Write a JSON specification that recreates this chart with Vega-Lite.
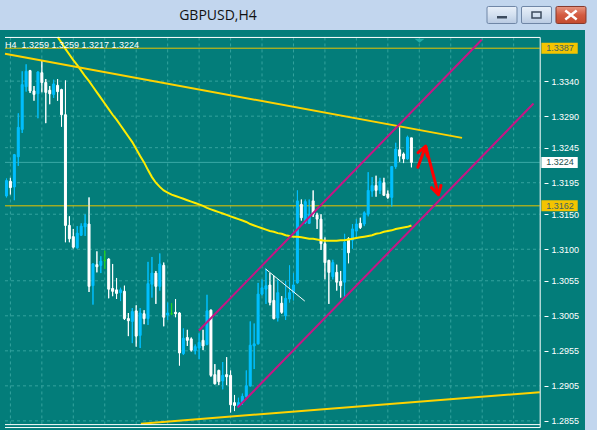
{
  "$schema": "https://vega.github.io/schema/vega-lite/v6.json",
  "background": "#c2d6ee",
  "padding": {"left": 0, "top": 4, "right": 12, "bottom": 0},
  "autosize": {"type": "pad"},
  "spacing": 4,
  "config": {"view": {"stroke": null}, "font": "Liberation Sans"},
  "datasets": {
    "candles": [
      {"i":0,"o":1.3176,"h":1.3201,"l":1.3174,"c":1.3198},
      {"i":1,"o":1.3197,"h":1.3202,"l":1.3178,"c":1.3188},
      {"i":2,"o":1.3189,"h":1.3236,"l":1.3170,"c":1.3235},
      {"i":3,"o":1.3232,"h":1.3294,"l":1.3219,"c":1.3274},
      {"i":4,"o":1.3271,"h":1.3354,"l":1.3266,"c":1.3335},
      {"i":5,"o":1.3332,"h":1.3364,"l":1.3325,"c":1.3354},
      {"i":6,"o":1.3355,"h":1.3356,"l":1.3323,"c":1.3326},
      {"i":7,"o":1.3326,"h":1.3333,"l":1.3312,"c":1.3321},
      {"i":8,"o":1.3322,"h":1.3354,"l":1.3287,"c":1.3353},
      {"i":9,"o":1.3352,"h":1.3369,"l":1.3324,"c":1.3338},
      {"i":10,"o":1.3338,"h":1.3343,"l":1.3280,"c":1.3324},
      {"i":11,"o":1.3327,"h":1.3333,"l":1.3307,"c":1.3322},
      {"i":12,"o":1.3321,"h":1.3342,"l":1.3316,"c":1.3336},
      {"i":13,"o":1.3334,"h":1.3343,"l":1.3312,"c":1.3325,"ma":1.3403},
      {"i":14,"o":1.3328,"h":1.3329,"l":1.3275,"c":1.3292,"ma":1.3395},
      {"i":15,"o":1.3292,"h":1.3341,"l":1.3110,"c":1.3134,"ma":1.3386},
      {"i":16,"o":1.3134,"h":1.3147,"l":1.3110,"c":1.3115,"ma":1.3378},
      {"i":17,"o":1.3118,"h":1.3129,"l":1.3101,"c":1.3103,"ma":1.3370},
      {"i":18,"o":1.3102,"h":1.3133,"l":1.3101,"c":1.3123,"ma":1.3363},
      {"i":19,"o":1.3120,"h":1.3137,"l":1.3119,"c":1.3133,"ma":1.3355},
      {"i":20,"o":1.3132,"h":1.3150,"l":1.3119,"c":1.3137,"ma":1.3347},
      {"i":21,"o":1.3136,"h":1.3174,"l":1.3039,"c":1.3047,"ma":1.3340},
      {"i":22,"o":1.3048,"h":1.3080,"l":1.3021,"c":1.3079,"ma":1.3332},
      {"i":23,"o":1.3078,"h":1.3097,"l":1.3067,"c":1.3075,"ma":1.3324},
      {"i":24,"o":1.3077,"h":1.3090,"l":1.3066,"c":1.3083,"ma":1.3316},
      {"i":25,"o":1.3084,"h":1.3098,"l":1.3072,"c":1.3084,"ma":1.3308},
      {"i":26,"o":1.3086,"h":1.3087,"l":1.3030,"c":1.3043,"ma":1.3300},
      {"i":27,"o":1.3044,"h":1.3079,"l":1.3033,"c":1.3040,"ma":1.3292},
      {"i":28,"o":1.3042,"h":1.3059,"l":1.3029,"c":1.3037,"ma":1.3285},
      {"i":29,"o":1.3038,"h":1.3045,"l":1.3026,"c":1.3042,"ma":1.3277},
      {"i":30,"o":1.3040,"h":1.3048,"l":1.2999,"c":1.3001,"ma":1.3269},
      {"i":31,"o":1.3001,"h":1.3009,"l":1.2976,"c":1.2998,"ma":1.3261},
      {"i":32,"o":1.2997,"h":1.3016,"l":1.2966,"c":1.3011,"ma":1.3253},
      {"i":33,"o":1.3012,"h":1.3020,"l":1.2961,"c":1.2976,"ma":1.3243},
      {"i":34,"o":1.2977,"h":1.3016,"l":1.2959,"c":1.3009,"ma":1.3233},
      {"i":35,"o":1.3008,"h":1.3013,"l":1.2993,"c":1.3001,"ma":1.3224},
      {"i":36,"o":1.3001,"h":1.3082,"l":1.2992,"c":1.3051,"ma":1.3213},
      {"i":37,"o":1.3050,"h":1.3089,"l":1.3031,"c":1.3066,"ma":1.3203},
      {"i":38,"o":1.3066,"h":1.3069,"l":1.3022,"c":1.3047,"ma":1.3195},
      {"i":39,"o":1.3047,"h":1.3094,"l":1.3041,"c":1.3079,"ma":1.3189},
      {"i":40,"o":1.3077,"h":1.3081,"l":1.2990,"c":1.3003,"ma":1.3184},
      {"i":41,"o":1.3006,"h":1.3024,"l":1.2999,"c":1.3009,"ma":1.3181},
      {"i":42,"o":1.3008,"h":1.3023,"l":1.3006,"c":1.3008,"ma":1.3178},
      {"i":43,"o":1.3010,"h":1.3029,"l":1.3003,"c":1.3008,"ma":1.3176},
      {"i":44,"o":1.3009,"h":1.3010,"l":1.2934,"c":1.2952,"ma":1.3174},
      {"i":45,"o":1.2951,"h":1.2987,"l":1.2949,"c":1.2973,"ma":1.3172},
      {"i":46,"o":1.2974,"h":1.2985,"l":1.2962,"c":1.2970,"ma":1.3170},
      {"i":47,"o":1.2972,"h":1.2974,"l":1.2954,"c":1.2956,"ma":1.3168},
      {"i":48,"o":1.2955,"h":1.2964,"l":1.2950,"c":1.2961,"ma":1.3166},
      {"i":49,"o":1.2959,"h":1.2980,"l":1.2943,"c":1.2967,"ma":1.3164},
      {"i":50,"o":1.2970,"h":1.2985,"l":1.2956,"c":1.2962,"ma":1.3162},
      {"i":51,"o":1.2964,"h":1.3035,"l":1.2963,"c":1.3012,"ma":1.3159},
      {"i":52,"o":1.3013,"h":1.3014,"l":1.2918,"c":1.2920,"ma":1.3157},
      {"i":53,"o":1.2921,"h":1.2936,"l":1.2907,"c":1.2908,"ma":1.3155},
      {"i":54,"o":1.2927,"h":1.2928,"l":1.2906,"c":1.2911,"ma":1.3153},
      {"i":55,"o":1.2912,"h":1.2939,"l":1.2900,"c":1.2920,"ma":1.3151},
      {"i":56,"o":1.2921,"h":1.2946,"l":1.2906,"c":1.2918,"ma":1.3149},
      {"i":57,"o":1.2920,"h":1.2927,"l":1.2867,"c":1.2878,"ma":1.3147},
      {"i":58,"o":1.2881,"h":1.2892,"l":1.2869,"c":1.2877,"ma":1.3145},
      {"i":59,"o":1.2876,"h":1.2888,"l":1.2875,"c":1.2881,"ma":1.3143},
      {"i":60,"o":1.2881,"h":1.2894,"l":1.2878,"c":1.2890,"ma":1.3141},
      {"i":61,"o":1.2890,"h":1.2927,"l":1.2888,"c":1.2905,"ma":1.3139},
      {"i":62,"o":1.2905,"h":1.2997,"l":1.2904,"c":1.2963,"ma":1.3136},
      {"i":63,"o":1.2962,"h":1.2994,"l":1.2929,"c":1.2965,"ma":1.3134},
      {"i":64,"o":1.2965,"h":1.3052,"l":1.2964,"c":1.3036,"ma":1.3132},
      {"i":65,"o":1.3036,"h":1.3057,"l":1.3034,"c":1.3045,"ma":1.3130},
      {"i":66,"o":1.3043,"h":1.3072,"l":1.3022,"c":1.3048,"ma":1.3128},
      {"i":67,"o":1.3049,"h":1.3066,"l":1.3020,"c":1.3024,"ma":1.3126},
      {"i":68,"o":1.3027,"h":1.3062,"l":1.3000,"c":1.3001,"ma":1.3125},
      {"i":69,"o":1.3002,"h":1.3057,"l":1.2997,"c":1.3038,"ma":1.3123},
      {"i":70,"o":1.3023,"h":1.3033,"l":1.3008,"c":1.3010,"ma":1.3122},
      {"i":71,"o":1.3005,"h":1.3055,"l":1.2999,"c":1.3030,"ma":1.3120},
      {"i":72,"o":1.3029,"h":1.3077,"l":1.3024,"c":1.3038,"ma":1.3119},
      {"i":73,"o":1.3038,"h":1.3066,"l":1.3027,"c":1.3049,"ma":1.3118},
      {"i":74,"o":1.3052,"h":1.3184,"l":1.3051,"c":1.3169,"ma":1.3118},
      {"i":75,"o":1.3164,"h":1.3171,"l":1.3141,"c":1.3145,"ma":1.3117},
      {"i":76,"o":1.3138,"h":1.3171,"l":1.3136,"c":1.3168,"ma":1.3116},
      {"i":77,"o":1.3137,"h":1.3171,"l":1.3136,"c":1.3150,"ma":1.3115},
      {"i":78,"o":1.3169,"h":1.3184,"l":1.3146,"c":1.3150,"ma":1.3115},
      {"i":79,"o":1.3149,"h":1.3152,"l":1.3129,"c":1.3143,"ma":1.3114},
      {"i":80,"o":1.3143,"h":1.3150,"l":1.3099,"c":1.3108,"ma":1.3113},
      {"i":81,"o":1.3108,"h":1.3117,"l":1.3057,"c":1.3081,"ma":1.3112},
      {"i":82,"o":1.3084,"h":1.3085,"l":1.3022,"c":1.3067,"ma":1.3112},
      {"i":83,"o":1.3061,"h":1.3085,"l":1.3057,"c":1.3081,"ma":1.3112},
      {"i":84,"o":1.3067,"h":1.3078,"l":1.3041,"c":1.3053,"ma":1.3112},
      {"i":85,"o":1.3054,"h":1.3069,"l":1.3031,"c":1.3048,"ma":1.3113},
      {"i":86,"o":1.3053,"h":1.3122,"l":1.3031,"c":1.3110,"ma":1.3113},
      {"i":87,"o":1.3115,"h":1.3117,"l":1.3080,"c":1.3095,"ma":1.3114},
      {"i":88,"o":1.3113,"h":1.3136,"l":1.3101,"c":1.3129,"ma":1.3115},
      {"i":89,"o":1.3126,"h":1.3143,"l":1.3115,"c":1.3136,"ma":1.3116},
      {"i":90,"o":1.3137,"h":1.3145,"l":1.3129,"c":1.3131,"ma":1.3117},
      {"i":91,"o":1.3136,"h":1.3154,"l":1.3133,"c":1.3152,"ma":1.3118},
      {"i":92,"o":1.3150,"h":1.3210,"l":1.3147,"c":1.3184,"ma":1.3119},
      {"i":93,"o":1.3183,"h":1.3203,"l":1.3175,"c":1.3191,"ma":1.3120},
      {"i":94,"o":1.3191,"h":1.3205,"l":1.3175,"c":1.3184,"ma":1.3122},
      {"i":95,"o":1.3184,"h":1.3202,"l":1.3179,"c":1.3197,"ma":1.3123},
      {"i":96,"o":1.3195,"h":1.3202,"l":1.3177,"c":1.3177,"ma":1.3125},
      {"i":97,"o":1.3179,"h":1.3184,"l":1.3172,"c":1.3174,"ma":1.3126},
      {"i":98,"o":1.3174,"h":1.3218,"l":1.3161,"c":1.3218,"ma":1.3127},
      {"i":99,"o":1.3218,"h":1.3252,"l":1.3215,"c":1.3243,"ma":1.3129},
      {"i":100,"o":1.3242,"h":1.3274,"l":1.3225,"c":1.3233,"ma":1.3130},
      {"i":101,"o":1.3236,"h":1.3238,"l":1.3223,"c":1.3229,"ma":1.3131},
      {"i":102,"o":1.3229,"h":1.3262,"l":1.3228,"c":1.3260,"ma":1.3132},
      {"i":103,"o":1.3259,"h":1.3259,"l":1.3217,"c":1.3224,"ma":1.3134}
    ],
    "lines": [
      {"line":"upperTrend","k":0,"bar":-0.375,"price":1.3379},
      {"line":"upperTrend","k":1,"bar":115.875,"price":1.3259},
      {"line":"lowerTrend","k":0,"bar":34.2,"price":1.2851},
      {"line":"lowerTrend","k":1,"bar":135.625,"price":1.2896},
      {"line":"channelTop","k":0,"bar":48.95,"price":1.2984},
      {"line":"channelTop","k":1,"bar":120.875,"price":1.3399},
      {"line":"channelBottom","k":0,"bar":58.8,"price":1.2874},
      {"line":"channelBottom","k":1,"bar":134.05,"price":1.3308},
      {"line":"arrow","k":0,"bar":104.625,"price":1.3217},
      {"line":"arrow","k":1,"bar":106.625,"price":1.3247},
      {"line":"arrow","k":2,"bar":109.875,"price":1.3178},
      {"line":"arrowHeadUp","k":0,"bar":104.675,"price":1.3238},
      {"line":"arrowHeadUp","k":1,"bar":106.625,"price":1.3247},
      {"line":"arrowHeadUp","k":2,"bar":107.025,"price":1.3233},
      {"line":"arrowHeadDown","k":0,"bar":108.1,"price":1.3188},
      {"line":"arrowHeadDown","k":1,"bar":109.875,"price":1.3178},
      {"line":"arrowHeadDown","k":2,"bar":110.525,"price":1.3191},
      {"line":"guide","k":0,"bar":65.875,"price":1.3072},
      {"line":"guide","k":1,"bar":75.875,"price":1.3026}
    ],
    "levels": [
      {"level":1.3387,"kind":"alert"},
      {"level":1.3162,"kind":"alert"},
      {"level":1.3224,"kind":"bid"}
    ],
    "gridPrices": [
      {"price":1.2855},{"price":1.2905},{"price":1.2955},{"price":1.3005},
      {"price":1.3055},{"price":1.3100},{"price":1.3150},{"price":1.3195},
      {"price":1.3245},{"price":1.3290},{"price":1.3340}
    ],
    "gridBars": [
      {"bar":1},{"bar":9},{"bar":17},{"bar":25},{"bar":33},{"bar":41},
      {"bar":49},{"bar":57},{"bar":65},{"bar":73},{"bar":81},{"bar":89},
      {"bar":97},{"bar":105},{"bar":113},{"bar":121},{"bar":129}
    ]
  },
  "vconcat": [
    {
      "spacing": 49,
      "hconcat": [
        {
          "width": 436,
          "height": 18,
          "data": {"values": [{"title": "GBPUSD,H4"}]},
          "mark": {"type": "text", "font": "Open Sans", "fontSize": 14, "color": "#111111", "baseline": "middle", "dy": 1},
          "encoding": {"text": {"field": "title"}}
        },
        {
          "width": 99,
          "height": 18,
          "data": {"values": [{"button": "minimize"}, {"button": "maximize"}, {"button": "close"}]},
          "layer": [
            {
              "transform": [{"filter": "datum.button != 'close'"}],
              "mark": {"type": "rect", "cornerRadius": 3,
                "fill": {"gradient": "linear", "x1": 0, "y1": 0, "x2": 0, "y2": 1,
                  "stops": [{"offset": 0, "color": "#eaf1fa"}, {"offset": 0.5, "color": "#d3e0f0"}, {"offset": 1, "color": "#b7c9e1"}]}},
              "encoding": {"x": {"field": "button", "type": "nominal", "axis": null,
                "scale": {"type": "band", "domain": ["minimize", "maximize", "close"], "paddingInner": 0.13, "paddingOuter": 0}}}
            },
            {
              "transform": [{"filter": "datum.button == 'close'"}],
              "mark": {"type": "rect", "cornerRadius": 3,
                "fill": {"gradient": "linear", "x1": 0, "y1": 0, "x2": 0, "y2": 1,
                  "stops": [{"offset": 0, "color": "#e89a86"}, {"offset": 0.5, "color": "#d35b41"}, {"offset": 1, "color": "#c24a2e"}]}},
              "encoding": {"x": {"field": "button", "type": "nominal"}}
            },
            {
              "transform": [{"filter": "datum.button != 'close'"}],
              "mark": {"type": "point", "shape": "M-0.9,-0.567L0.9,-0.567Q1,-0.567,1,-0.467L1,0.467Q1,0.567,0.9,0.567L-0.9,0.567Q-1,0.567,-1,0.467L-1,-0.467Q-1,-0.567,-0.9,-0.567Z", "size": 900, "filled": false, "stroke": "#6f86a6", "strokeWidth": 1, "opacity": 1},
              "encoding": {"x": {"field": "button", "type": "nominal"}}
            },
            {
              "transform": [{"filter": "datum.button == 'close'"}],
              "mark": {"type": "point", "shape": "M-0.9,-0.567L0.9,-0.567Q1,-0.567,1,-0.467L1,0.467Q1,0.567,0.9,0.567L-0.9,0.567Q-1,0.567,-1,0.467L-1,-0.467Q-1,-0.567,-0.9,-0.567Z", "size": 900, "filled": false, "stroke": "#86392c", "strokeWidth": 1, "opacity": 1},
              "encoding": {"x": {"field": "button", "type": "nominal"}}
            },
            {
              "transform": [{"filter": "datum.button == 'minimize'"}],
              "mark": {"type": "point", "shape": "M-1,0.2L1,0.2L1,0.7L-1,0.7Z", "size": 100, "filled": true, "color": "#3c4b5e", "opacity": 1},
              "encoding": {"x": {"field": "button", "type": "nominal"}}
            },
            {
              "transform": [{"filter": "datum.button == 'maximize'"}],
              "mark": {"type": "point", "shape": "M-0.9,-0.6L0.9,-0.6L0.9,0.6L-0.9,0.6Z", "size": 100, "filled": false, "stroke": "#3c4b5e", "strokeWidth": 1.5, "opacity": 1},
              "encoding": {"x": {"field": "button", "type": "nominal"}}
            },
            {
              "transform": [{"filter": "datum.button == 'close'"}],
              "mark": {"type": "point", "shape": "M-0.95,-0.75L0.95,0.75M0.95,-0.75L-0.95,0.75", "size": 144, "filled": false, "stroke": "#ffffff", "strokeWidth": 2.5, "opacity": 1},
              "encoding": {"x": {"field": "button", "type": "nominal"}}
            }
          ]
        }
      ]
    },
    {
      "width": 585,
      "height": 404,
      "view": {"fill": "#037d7a", "stroke": null},
      "layer": [
        {
          "data": {"name": "candles"},
          "mark": {"type": "rule", "strokeWidth": 1, "clip": true},
          "encoding": {
            "x": {"field": "i", "type": "quantitative", "axis": null, "scale": {"type": "linear", "domain": [-0.375, 145.875], "nice": false, "zero": false}},
            "y": {"field": "l", "type": "quantitative", "scale": {"type": "linear", "domain": [1.284341, 1.340585], "nice": false, "zero": false},
              "axis": {"orient": "right", "offset": -41, "title": null, "grid": false, "domain": false,
                "values": [1.2855, 1.2905, 1.2955, 1.3005, 1.3055, 1.31, 1.315, 1.3195, 1.3245, 1.329, 1.334],
                "format": ".4f", "tickColor": "#ffffff", "tickSize": 4, "labelColor": "#ffffff",
                "labelFont": "Liberation Sans", "labelFontSize": 9, "labelPadding": 3, "labelFlush": false, "labelOverlap": false}},
            "y2": {"field": "h"},
            "stroke": {"condition": [{"test": "datum.c == datum.o", "value": "#21d421"}, {"test": "datum.c > datum.o", "value": "#00bfff"}], "value": "#ffffff"}
          }
        },
        {
          "data": {"name": "gridPrices"},
          "mark": {"type": "rule", "color": "#34a39e", "strokeDash": [3, 3], "clip": true},
          "encoding": {
            "y": {"field": "price", "type": "quantitative"},
            "x": {"datum": -0.375, "type": "quantitative", "axis": null},
            "x2": {"datum": 135.625}
          }
        },
        {
          "data": {"name": "gridBars"},
          "mark": {"type": "rule", "color": "#34a39e", "strokeDash": [3, 3], "clip": true},
          "encoding": {
            "x": {"field": "bar", "type": "quantitative", "axis": null},
            "y": {"datum": 1.340237, "type": "quantitative"},
            "y2": {"datum": 1.284967}
          }
        },
        {
          "data": {"name": "levels"},
          "transform": [{"filter": "datum.kind == 'alert'"}],
          "mark": {"type": "rule", "color": "#e9c300", "strokeWidth": 1, "clip": true},
          "encoding": {
            "y": {"field": "level", "type": "quantitative"},
            "x": {"datum": -0.375, "type": "quantitative", "axis": null},
            "x2": {"datum": 135.625}
          }
        },
        {
          "data": {"name": "levels"},
          "transform": [{"filter": "datum.kind == 'bid'"}],
          "mark": {"type": "rule", "color": "#3aa9a5", "strokeWidth": 1, "clip": true},
          "encoding": {
            "y": {"field": "level", "type": "quantitative"},
            "x": {"datum": -0.375, "type": "quantitative", "axis": null},
            "x2": {"datum": 135.625}
          }
        },
        {
          "data": {"name": "candles"},
          "mark": {"type": "rule", "strokeWidth": 1, "clip": true},
          "encoding": {
            "x": {"field": "i", "type": "quantitative", "axis": null},
            "y": {"field": "l", "type": "quantitative"},
            "y2": {"field": "h"},
            "stroke": {"condition": [{"test": "datum.c == datum.o", "value": "#21d421"}, {"test": "datum.c > datum.o", "value": "#00bfff"}], "value": "#ffffff"}
          }
        },
        {
          "data": {"name": "candles"},
          "mark": {"type": "bar", "size": 2, "strokeWidth": 1, "clip": true},
          "encoding": {
            "x": {"field": "i", "type": "quantitative", "axis": null},
            "y": {"field": "o", "type": "quantitative"},
            "y2": {"field": "c"},
            "fill": {"condition": [{"test": "datum.c == datum.o", "value": "#21d421"}, {"test": "datum.c > datum.o", "value": "#00bfff"}], "value": "#ffffff"},
            "stroke": {"condition": [{"test": "datum.c == datum.o", "value": "#21d421"}, {"test": "datum.c > datum.o", "value": "#00bfff"}], "value": "#ffffff"}
          }
        },
        {
          "data": {"name": "candles"},
          "transform": [{"filter": "isValid(datum.ma)"}],
          "mark": {"type": "line", "color": "#ffec00", "strokeWidth": 2, "clip": true},
          "encoding": {
            "x": {"field": "i", "type": "quantitative", "axis": null},
            "y": {"field": "ma", "type": "quantitative"}
          }
        },
        {
          "data": {"name": "lines"},
          "transform": [{"filter": "datum.line == 'upperTrend' || datum.line == 'lowerTrend'"}],
          "mark": {"type": "line", "color": "#ffd200", "strokeWidth": 2, "clip": true},
          "encoding": {
            "x": {"field": "bar", "type": "quantitative", "axis": null},
            "y": {"field": "price", "type": "quantitative"},
            "detail": {"field": "line"},
            "order": {"field": "k"}
          }
        },
        {
          "data": {"name": "lines"},
          "transform": [{"filter": "datum.line == 'channelTop' || datum.line == 'channelBottom'"}],
          "mark": {"type": "line", "color": "#c71585", "strokeWidth": 2, "clip": true},
          "encoding": {
            "x": {"field": "bar", "type": "quantitative", "axis": null},
            "y": {"field": "price", "type": "quantitative"},
            "detail": {"field": "line"},
            "order": {"field": "k"}
          }
        },
        {
          "data": {"name": "lines"},
          "transform": [{"filter": "datum.line == 'arrow' || datum.line == 'arrowHeadUp' || datum.line == 'arrowHeadDown'"}],
          "mark": {"type": "line", "color": "#ff0000", "strokeWidth": 3, "strokeCap": "round", "strokeJoin": "round", "clip": true},
          "encoding": {
            "x": {"field": "bar", "type": "quantitative", "axis": null},
            "y": {"field": "price", "type": "quantitative"},
            "detail": {"field": "line"},
            "order": {"field": "k"}
          }
        },
        {
          "data": {"name": "lines"},
          "transform": [{"filter": "datum.line == 'guide'"}],
          "mark": {"type": "line", "color": "#ffffff", "strokeWidth": 1, "clip": true},
          "encoding": {
            "x": {"field": "bar", "type": "quantitative", "axis": null},
            "y": {"field": "price", "type": "quantitative"},
            "order": {"field": "k"}
          }
        },
        {
          "data": {"values": [{}]},
          "mark": {"type": "rule", "color": "#ffffff", "strokeWidth": 1, "clip": true},
          "encoding": {
            "y": {"datum": 1.340237, "type": "quantitative"},
            "x": {"datum": -0.375, "type": "quantitative", "axis": null},
            "x2": {"datum": 135.75}
          }
        },
        {
          "data": {"values": [{}]},
          "mark": {"type": "rule", "color": "#ffffff", "strokeWidth": 1, "clip": true},
          "encoding": {
            "y": {"datum": 1.284967, "type": "quantitative"},
            "x": {"datum": -0.375, "type": "quantitative", "axis": null},
            "x2": {"datum": 135.75}
          }
        },
        {
          "data": {"values": [{}]},
          "mark": {"type": "rule", "color": "#ffffff", "strokeWidth": 1, "clip": true},
          "encoding": {
            "y": {"datum": 1.28455, "type": "quantitative"},
            "x": {"datum": -0.375, "type": "quantitative", "axis": null},
            "x2": {"datum": 135.75}
          }
        },
        {
          "data": {"values": [{}]},
          "mark": {"type": "rule", "color": "#ffffff", "strokeWidth": 1, "clip": true},
          "encoding": {
            "x": {"datum": 135.75, "type": "quantitative", "axis": null},
            "y": {"datum": 1.340237, "type": "quantitative"},
            "y2": {"datum": 1.28455}
          }
        },
        {
          "data": {"name": "levels"},
          "mark": {"type": "bar", "orient": "horizontal", "size": 11, "clip": true},
          "encoding": {
            "y": {"field": "level", "type": "quantitative"},
            "x": {"datum": 136.05, "type": "quantitative", "axis": null},
            "x2": {"datum": 145.3},
            "fill": {"condition": {"test": "datum.kind == 'bid'", "value": "#ffffff"}, "value": "#f4c400"}
          }
        },
        {
          "data": {"name": "levels"},
          "mark": {"type": "text", "align": "left", "baseline": "middle", "font": "Liberation Sans", "fontSize": 9, "clip": true},
          "encoding": {
            "y": {"field": "level", "type": "quantitative"},
            "x": {"datum": 137.3, "type": "quantitative", "axis": null},
            "text": {"field": "level", "type": "quantitative", "format": ".4f"},
            "fill": {"condition": {"test": "datum.kind == 'bid'", "value": "#24504e"}, "value": "#3d6462"}
          }
        },
        {
          "data": {"values": [{"header": "H4\u00a0\u00a01.3259\u00a01.3259\u00a01.3217\u00a01.3224"}]},
          "mark": {"type": "text", "align": "left", "baseline": "alphabetic", "font": "Liberation Sans", "fontSize": 9, "color": "#ffffff", "clip": true},
          "encoding": {
            "x": {"datum": -0.375, "type": "quantitative", "axis": null},
            "y": {"datum": 1.338733, "type": "quantitative"},
            "text": {"field": "header"}
          }
        },
        {
          "data": {"values": [{}]},
          "mark": {"type": "point", "shape": "M-1,-0.4L1,-0.4L0,0.4Z", "size": 100, "filled": true, "color": "#22aba6", "opacity": 1, "clip": true},
          "encoding": {
            "x": {"datum": 105.05, "type": "quantitative", "axis": null},
            "y": {"datum": 1.33975, "type": "quantitative"}
          }
        }
      ]
    }
  ]
}
